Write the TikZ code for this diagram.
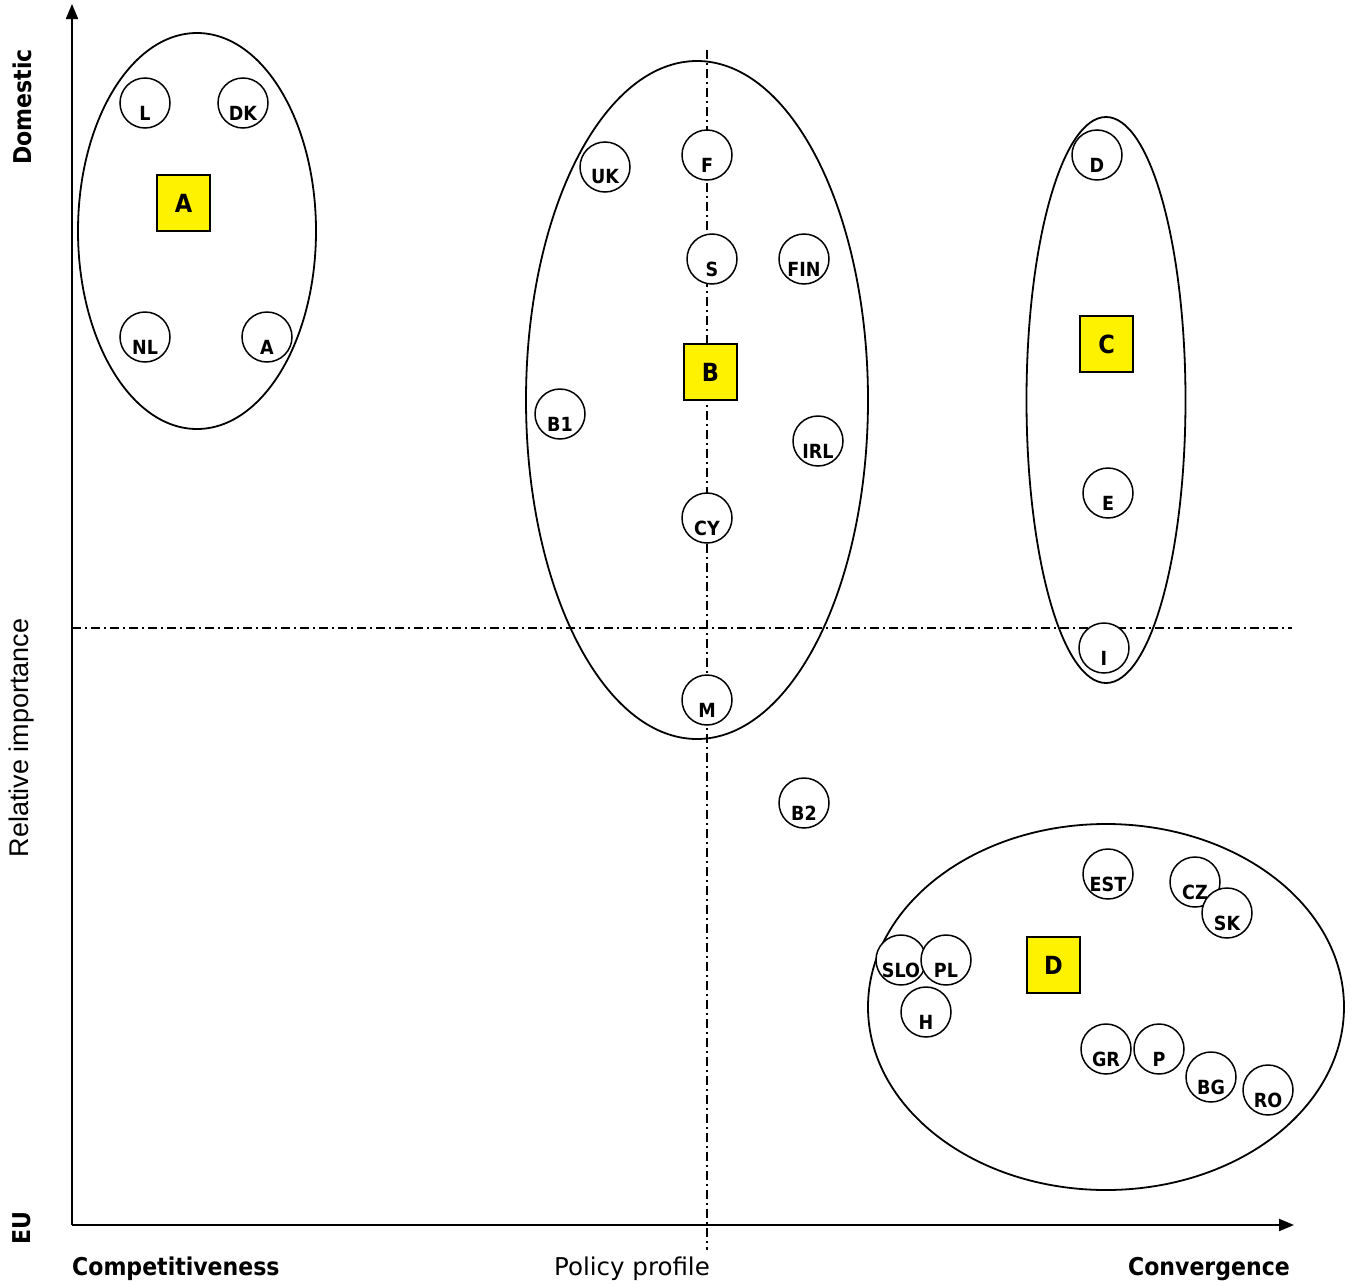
\documentclass[tikz,border=0pt]{standalone}
\usepackage{fontspec}
\setmainfont{DejaVu Sans Condensed}
\newfontfamily\widefont{DejaVu Sans}
\newfontfamily\arialfont{Liberation Sans}
\usetikzlibrary{arrows.meta,shapes.geometric}

\tikzset{
  axisline/.style={line width=2pt, -{Triangle[length=15pt,width=12pt]}},
  guide/.style={line width=1.3pt, dash pattern=on 9pt off 4pt on 2pt off 4pt},
  grp/.style={draw, ellipse, line width=1.8pt, inner sep=0pt},
  ctry/.style={circle, draw, line width=1.5pt, fill=white, inner sep=0pt,
    minimum size=50pt,
    path picture={\node[font=\bfseries\fontsize{19.5}{19.5}\selectfont]
      at ([yshift=-10pt]path picture bounding box.center) {#1};}},
  tag/.style={draw, line width=1.8pt, fill=yellow, minimum width=53pt,
    minimum height=56pt, inner sep=0pt, font=\bfseries\fontsize{25}{25}\selectfont},
  endlbl/.style={font=\bfseries\fontsize{24.5}{24.5}\selectfont, inner sep=0pt},
  axlbl/.style={font=\widefont\fontsize{24.5}{24.5}\selectfont, inner sep=0pt},
}

\begin{document}
\begin{tikzpicture}[x=1pt,y=-1pt]
\useasboundingbox (0,0) rectangle (1353,1285);

% axes
\coordinate (O) at (72,1225);
\coordinate (ytip) at (72,4);
\coordinate (xtip) at (1294,1225);
\draw[axisline] (O) -- (ytip);
\draw[axisline] (O) -- (xtip);

% guide lines
\coordinate (vtop) at (707,50);
\coordinate (vbot) at (707,1250);
\coordinate (hl) at (72,628);
\coordinate (hr) at (1292,628);
\draw[guide] (vtop) -- (vbot);
\draw[guide] (hl) -- (hr);

% groups
\node[grp, minimum width=238pt, minimum height=396pt] (grpA) at (197,231) {};
\node[grp, minimum width=342pt, minimum height=678pt] (grpB) at (697,400) {};
\node[grp, minimum width=159pt, minimum height=566pt] (grpC) at (1106,400) {};
\node[grp, minimum width=476pt, minimum height=366pt] (grpD) at (1106,1007) {};

% group tags
\node[tag] (tagA) at (183.5,203) {A};
\node[tag] (tagB) at (710.5,372) {B};
\node[tag] (tagC) at (1106.5,344) {C};
\node[tag] (tagD) at (1053.5,965) {D};

% countries, group A
\node[ctry=L] (L) at (145,103) {};
\node[ctry=DK] (DK) at (243,103) {};
\node[ctry=NL] (NL) at (145,337) {};
\node[ctry=A] (At) at (267,337) {};

% countries, group B
\node[ctry=UK] (UK) at (605,167) {};
\node[ctry=F] (F) at (707,155) {};
\node[ctry=S] (S) at (712,259) {};
\node[ctry=FIN] (FIN) at (804,259) {};
\node[ctry=B1] (B1) at (560,414) {};
\node[ctry=IRL] (IRL) at (818,441) {};
\node[ctry=CY] (CY) at (707,518) {};
\node[ctry=M] (M) at (707,700) {};
\node[ctry=B2] (B2) at (804,803) {};

% countries, group C
\node[ctry=D] (De) at (1097,155) {};
\node[ctry=E] (E) at (1108,493) {};
\node[ctry=I] (I) at (1104,648) {};

% countries, group D
\node[ctry=EST] (EST) at (1108,874) {};
\node[ctry=CZ] (CZ) at (1195,882) {};
\node[ctry=SK] (SK) at (1227,913) {};
\node[ctry=SLO] (SLO) at (901,960) {};
\node[ctry=PL] (PL) at (946,960) {};
\node[ctry=H] (H) at (926,1012) {};
\node[ctry=GR] (GR) at (1106,1049) {};
\node[ctry=P] (P) at (1159,1049) {};
\node[ctry=BG] (BG) at (1211,1077) {};
\node[ctry=RO] (RO) at (1268,1090) {};

% axis labels
\node[endlbl, rotate=90] (dom) at (22,107) {Domestic};
\node[font=\arialfont\fontsize{27}{27}\selectfont, inner sep=0pt, rotate=90] (rel) at (22,738) {Relative importance};
\node[endlbl, rotate=90] (eu) at (22,1228) {EU};
\node[endlbl, anchor=west] (comp) at (72,1269) {Competitiveness};
\node[axlbl] (pol) at (632,1269) {Policy profile};
\node[endlbl, anchor=east] (conv) at (1290,1269) {Convergence};
\end{tikzpicture}
\end{document}
